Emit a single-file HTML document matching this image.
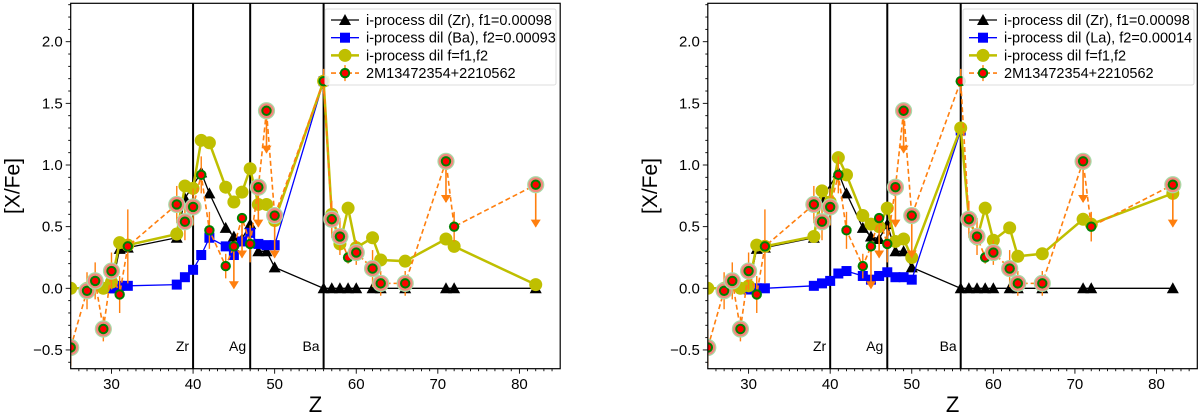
<!DOCTYPE html>
<html><head><meta charset="utf-8"><style>
body{margin:0;background:#fff;}
svg{display:block;font-family:"Liberation Sans","DejaVu Sans",sans-serif;}
</style></head><body>
<svg id="chart" width="1200" height="415" viewBox="0 0 1200 415" xmlns="http://www.w3.org/2000/svg"></svg>
<script>
const obsZ=[25,27,28,29,30,31,32,38,39,40,41,42,44,45,46,47,48,49,50,56,57,58,59,60,62,63,66,71,72,82];
const obsV=[-0.48,-0.02,0.06,-0.33,0.14,-0.05,0.34,0.68,0.54,0.66,0.92,0.47,0.18,0.34,0.57,0.36,0.82,1.44,0.59,1.68,0.56,0.42,0.25,0.29,0.16,0.04,0.04,1.03,0.50,0.84];
const obsErr=[0.15,0.15,0.15,0.1,0.15,0.15,0.3,0.15,0.15,0.15,0.15,0.15,0.1,0.15,0.15,0.15,0.15,0.15,0.15,0.1,0.15,0.15,0.05,0.1,0.15,0.1,0.1,0.15,0.12,0.1];
const obsUL=[null,null,null,null,null,null,null,null,null,null,null,null,null,0.0,0.25,null,0.5,1.1,0.25,null,null,null,null,null,null,null,null,0.7,null,0.5];
const obsHalo=[1,1,1,1,1,0,0,1,1,1,0,0,0,0,0,0,1,1,1,0,1,1,0,1,1,1,1,1,0,1];
const blackZ=[30,31,32,38,39,41,42,44,45,46,47,48,49,50,56,57,58,59,60,62,63,66,71,72,82];
const blackV=[0.0,0.32,0.33,0.41,0.73,0.94,0.77,0.49,0.42,0.40,0.52,0.30,0.30,0.17,0.0,0.0,0.0,0.0,0.0,0.0,0.0,0.0,0.0,0.0,0.0];
const blueZ=[30,31,32,38,39,40,41,42,44,45,46,47,48,49,50,56];
const blueVL=[0.0,0.02,0.02,0.03,0.09,0.15,0.27,0.41,0.34,0.27,0.38,0.45,0.36,0.35,0.35,1.68];
const blueVR=[-0.01,0.0,0.0,0.02,0.04,0.06,0.12,0.14,0.10,0.07,0.10,0.13,0.09,0.09,0.07,1.28];
const yelZ=[25,27,29,30,31,32,38,39,40,41,42,44,45,46,47,48,49,50,56,57,58,59,60,62,63,66,71,72,82];
const yelVL=[0.0,0.0,0.0,0.05,0.37,0.35,0.44,0.83,0.81,1.20,1.18,0.82,0.70,0.78,0.97,0.68,0.68,0.55,1.68,0.60,0.36,0.65,0.33,0.41,0.23,0.22,0.40,0.34,0.03];
const yelVR=[0.0,0.0,0.0,0.02,0.35,0.34,0.42,0.79,0.70,1.06,0.92,0.59,0.52,0.50,0.65,0.38,0.40,0.25,1.30,0.57,0.40,0.65,0.39,0.49,0.26,0.28,0.56,0.52,0.77];
const xTicks=[30,40,50,60,70,80];
const yTicks=[-0.5,0.0,0.5,1.0,1.5,2.0];
const yTickLabels=["\u22120.5","0.0","0.5","1.0","1.5","2.0"];
const vLines=[40,47,56];
const vLabels=["Zr","Ag","Ba"];
const legendLeft=["i-process dil (Zr), f1=0.00098","i-process dil (Ba), f2=0.00093","i-process dil f=f1,f2","2M13472354+2210562"];
const legendRight=["i-process dil (Zr), f1=0.00098","i-process dil (La), f2=0.00014","i-process dil f=f1,f2","2M13472354+2210562"];

const NS="http://www.w3.org/2000/svg";
const svg=document.getElementById('chart');
function mk(tag,attrs,parent){const e=document.createElementNS(NS,tag);for(const k in attrs)e.setAttribute(k,attrs[k]);(parent||svg).appendChild(e);return e;}

function panel(id,x0,blueV,yelV,legend,legX){
  const W=489.5,top=3.3,bot=368.7;
  const sx=z=>x0+(z-25)*W/60;
  const sy=v=>288.3-v*123.3;
  const g=mk('g',{});
  
  
  const cp=mk('clipPath',{id:id+'clip'},g);
  mk('rect',{x:x0,y:top,width:W,height:bot-top},cp);
  const pg=mk('g',{'clip-path':'url(#'+id+'clip)'},g);
  vLines.forEach((z,i)=>{
    const l=mk('line',{x1:sx(z),x2:sx(z),y1:top,y2:bot,stroke:'#000','stroke-width':2},pg);
    
    
    const t=mk('text',{x:sx(z)-4,y:351,'font-size':14,'text-anchor':'end'},g);
    t.textContent=vLabels[i];
    
    
  });
  mk('polyline',{points:blackZ.map((z,i)=>sx(z)+','+sy(blackV[i])).join(' '),fill:'none',stroke:'#000','stroke-width':1.3},pg);
  blackZ.forEach((z,i)=>{const x=sx(z),y=sy(blackV[i]);
    const m=mk('polygon',{points:`${x},${y-6} ${x-6},${y+5} ${x+6},${y+5}`,fill:'#000'},pg);
    
    });
  mk('polyline',{points:blueZ.map((z,i)=>sx(z)+','+sy(blueV[i])).join(' '),fill:'none',stroke:'#0000ff','stroke-width':1.3},pg);
  blueZ.forEach((z,i)=>{const x=sx(z),y=sy(blueV[i]);
    const m=mk('rect',{x:x-5,y:y-5,width:10,height:10,fill:'#0000ff'},pg);
    
    });
  mk('polyline',{points:yelZ.map((z,i)=>sx(z)+','+sy(yelV[i])).join(' '),fill:'none',stroke:'#bfbf00','stroke-width':2.5},pg);
  yelZ.forEach((z,i)=>{
    const m=mk('circle',{cx:sx(z),cy:sy(yelV[i]),r:6.5,fill:'#bfbf00'},pg);
    
    });
  mk('polyline',{points:obsZ.map((z,i)=>sx(z)+','+sy(obsV[i])).join(' '),fill:'none',stroke:'#ff7f0e','stroke-width':1.6,'stroke-dasharray':'5,3'},pg);
  obsZ.forEach((z,i)=>{
    const x=sx(z),v=obsV[i];
    if(obsUL[i]!==null){
      mk('line',{x1:x,x2:x,y1:sy(v),y2:sy(obsUL[i]),stroke:'#ff7f0e','stroke-width':1.6},pg);
      const ty=sy(obsUL[i]);
      mk('polygon',{points:`${x-5},${ty-7} ${x+5},${ty-7} ${x},${ty+1}`,fill:'#ff7f0e'},pg);
    } else {
      mk('line',{x1:x,x2:x,y1:sy(v+obsErr[i]),y2:sy(v-obsErr[i]),stroke:'#ff7f0e','stroke-width':1.4},pg);
    }
  });
  obsZ.forEach((z,i)=>{
    const x=sx(z),y=sy(obsV[i]);
    if(obsHalo[i]) mk('circle',{cx:x,cy:y,r:8,fill:'#f4877d',stroke:'#a8dca8','stroke-width':1.2},pg);
    const m=mk('circle',{cx:x,cy:y,r:5.2,fill:'#008000'},pg);
    
    
    mk('circle',{cx:x,cy:y,r:3.2,fill:'#ff0000'},pg);
  });
  const fr=mk('rect',{x:x0,y:top,width:W,height:bot-top,fill:'none',stroke:'#000','stroke-width':1.2},g);
  
  
  for(let z=26;z<=84;z++){const x=sx(z);mk('line',{x1:x,x2:x,y1:bot,y2:bot+(z%10===0?5:2.5),stroke:'#000','stroke-width':0.9},g);}
  xTicks.forEach(z=>{const t=mk('text',{x:sx(z),y:389,'font-size':15,'text-anchor':'middle'},g);t.textContent=z;
    
    });
  for(let k=-6;k<=23;k++){const v=k/10,y=sy(v);mk('line',{x1:x0,x2:x0-(k%5===0?5:2.5),y1:y,y2:y,stroke:'#000','stroke-width':0.9},g);}
  yTicks.forEach((v,i)=>{const t=mk('text',{x:x0-8,y:sy(v)+5,'font-size':15,'text-anchor':'end'},g);t.textContent=yTickLabels[i];
    
    });
  const xt=mk('text',{x:x0+W/2,y:412,'font-size':22,'text-anchor':'middle'},g);xt.textContent='Z';
  
  
  const yt=mk('text',{x:0,y:0,'font-size':21,'text-anchor':'middle',transform:`translate(${x0-51},186) rotate(-90)`},g);yt.textContent='[X/Fe]';
  
  
  const lg=mk('g',{},g);
  
  
  mk('rect',{x:legX,y:9,width:231,height:76,fill:'#fff','fill-opacity':0.85,stroke:'#ddd','stroke-width':1,rx:2},lg);
  const mx=legX+20;
  legend.forEach((s,i)=>{
    const y=20+i*17.7;
    const e=mk('g',{},lg);
    
    
    if(i===0){mk('line',{x1:mx-14,x2:mx+14,y1:y,y2:y,stroke:'#000','stroke-width':1.3},e);mk('polygon',{points:`${mx},${y-6} ${mx-6},${y+5} ${mx+6},${y+5}`,fill:'#000'},e);}
    if(i===1){mk('line',{x1:mx-14,x2:mx+14,y1:y,y2:y,stroke:'#00f','stroke-width':1.3},e);mk('rect',{x:mx-5,y:y-5,width:10,height:10,fill:'#00f'},e);}
    if(i===2){mk('line',{x1:mx-14,x2:mx+14,y1:y,y2:y,stroke:'#bfbf00','stroke-width':2.5},e);mk('circle',{cx:mx,cy:y,r:6.5,fill:'#bfbf00'},e);}
    if(i===3){mk('line',{x1:mx-14,x2:mx+14,y1:y,y2:y,stroke:'#ff7f0e','stroke-width':1.6,'stroke-dasharray':'5,3'},e);mk('line',{x1:mx,x2:mx,y1:y-8,y2:y+8,stroke:'#ff7f0e','stroke-width':1.4},e);mk('circle',{cx:mx,cy:y,r:5.2,fill:'#008000'},e);mk('circle',{cx:mx,cy:y,r:3.2,fill:'#f00'},e);}
    const t=mk('text',{x:legX+41,y:y+5,'font-size':14.5},e);t.textContent=s;
  });
}
panel('left',70.7,blueVL,yelVL,legendLeft,325);
panel('right',707.8,blueVR,yelVR,legendRight,963);
</script>
</body></html>
